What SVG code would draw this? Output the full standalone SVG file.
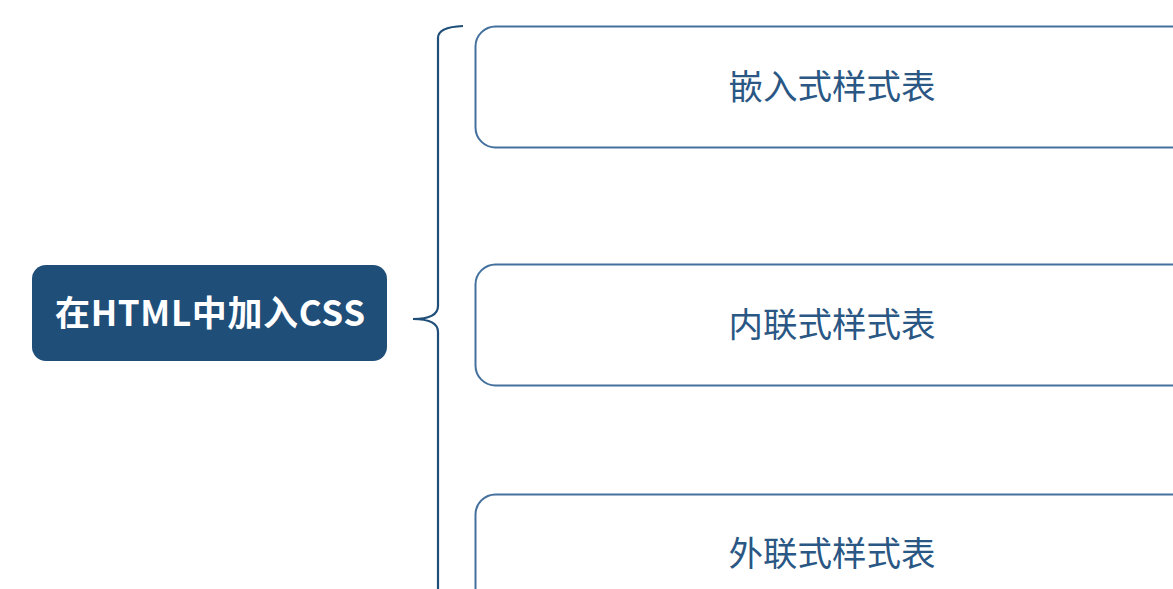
<svg xmlns="http://www.w3.org/2000/svg" width="1173" height="589" viewBox="0 0 1173 589">
<style>
.box{fill:#ffffff;stroke:#44709d;stroke-width:2}
.lbl{font-family:"Noto Sans CJK SC","Noto Sans",sans-serif;font-size:34.5px;fill:#2a5784;text-anchor:middle}
.main{fill:#1f4e79}
.mainlbl{font-family:"Noto Sans CJK SC","Noto Sans",sans-serif;font-size:35px;font-weight:bold;fill:#ffffff;text-anchor:middle}
.con{fill:none;stroke:#1f4e79;stroke-width:2.2}
</style>
<rect width="1173" height="589" fill="#ffffff"/>
<g id="connectors">
<path class="con" d="M463,26 Q438,27 438,38 L438,306 Q438,319 413,319 Q438,319 438,332 L438,600"/>
</g>
<g id="root">
<rect class="main" x="32" y="265" width="355" height="96" rx="14"/>
<text class="mainlbl" x="210" y="326" textLength="310" lengthAdjust="spacing">在HTML中加入CSS</text>
</g>
<g id="node1">
<rect class="box" x="475.5" y="26.5" width="730" height="121" rx="20"/>
<text class="lbl" x="832" y="99">嵌入式样式表</text>
</g>
<g id="node2">
<rect class="box" x="475.5" y="264.5" width="730" height="121" rx="20"/>
<text class="lbl" x="832" y="337">内联式样式表</text>
</g>
<g id="node3">
<rect class="box" x="475.5" y="494.5" width="730" height="121" rx="20"/>
<text class="lbl" x="832" y="566">外联式样式表</text>
</g>
</svg>
